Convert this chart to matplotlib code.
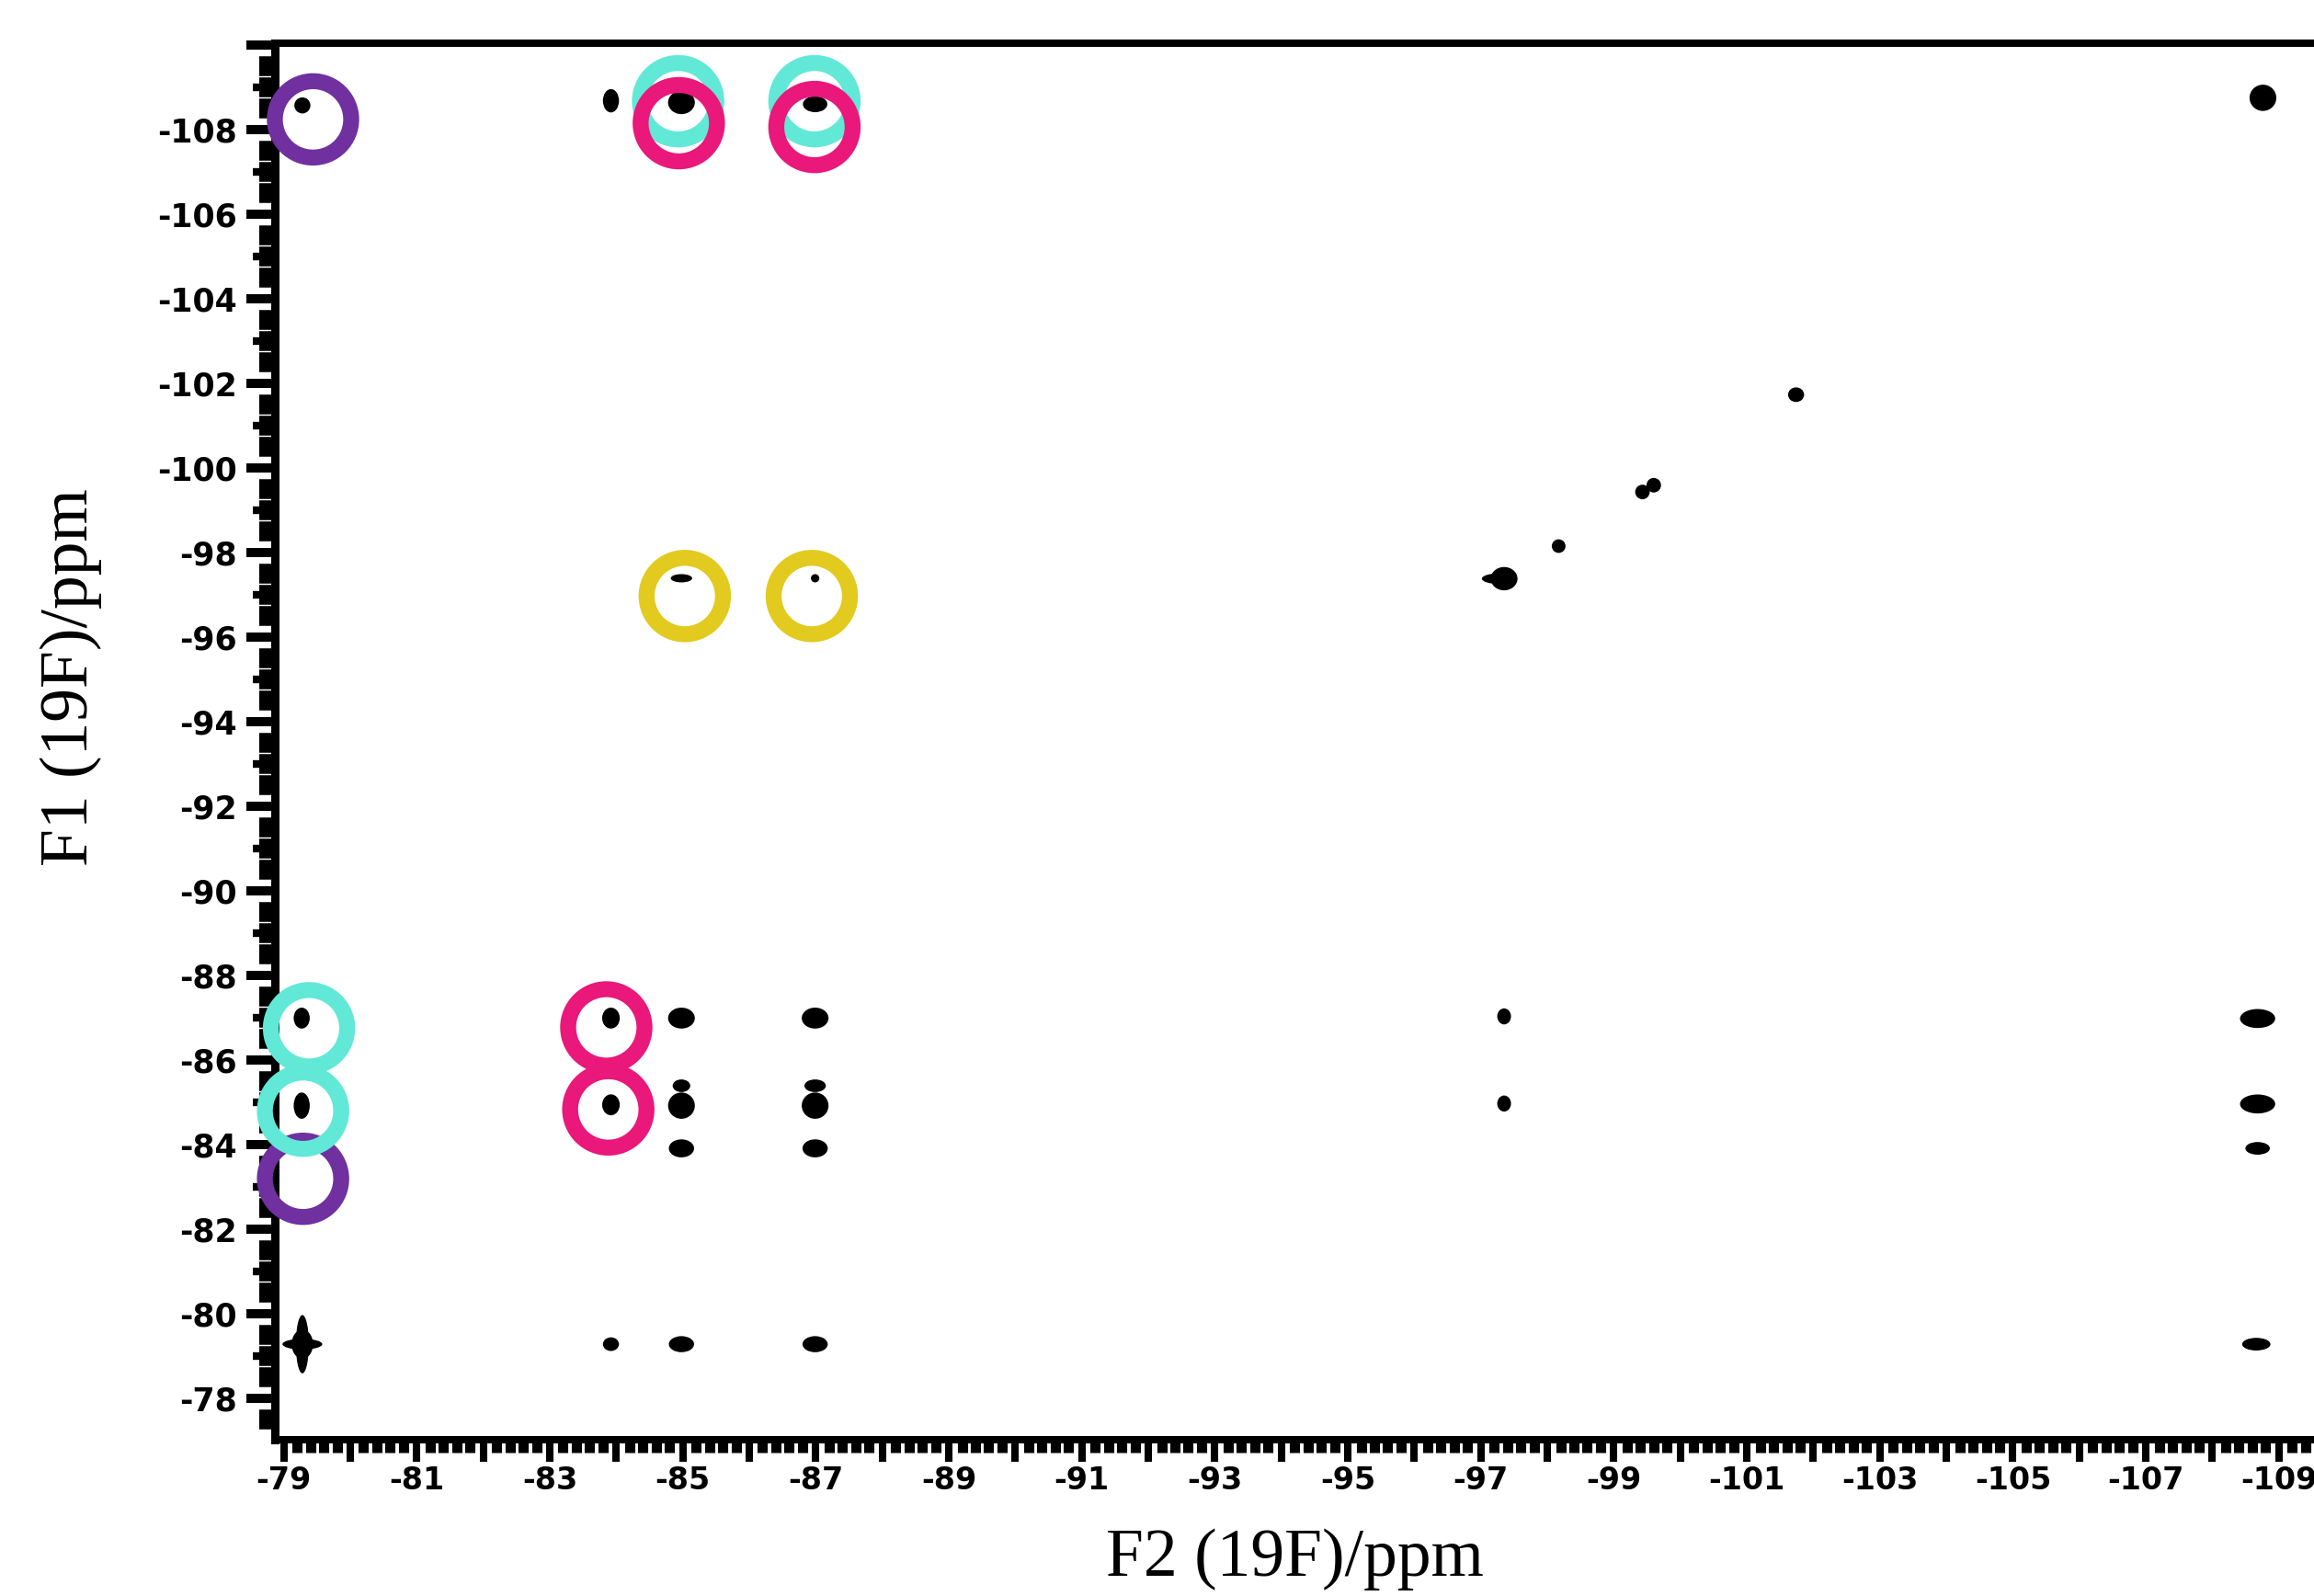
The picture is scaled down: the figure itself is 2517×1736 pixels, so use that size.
import matplotlib
matplotlib.use("Agg")
import matplotlib.pyplot as plt
import numpy as np
from matplotlib.patches import Ellipse
from matplotlib.ticker import MultipleLocator, FixedLocator, FuncFormatter

plt.rcParams["axes.unicode_minus"] = False

# 19F-19F correlation peaks: F2 / F1 shift (ppm) and apparent extent (ppm)
peak_f2 = [-79.28, -79.27, -79.27, -79.27, -79.28, -79.28, -79.28,
           -83.92, -83.92, -83.92, -83.92, -83.92,
           -84.98, -84.98, -84.98, -84.98, -84.98, -84.98, -84.98,
           -86.99, -86.99, -86.99, -86.99, -86.99, -86.99, -86.99,
           -97.35, -97.28, -97.35, -97.35,
           -98.17, -99.43, -99.60, -101.74,
           -108.76, -108.68, -108.68, -108.68, -108.66]
peak_f1 = [-108.57, -86.99, -84.92, -83.87, -79.28, -79.28, -79.28,
           -108.68, -86.99, -84.94, -83.88, -79.28,
           -108.64, -97.39, -86.99, -85.39, -84.92, -83.91, -79.28,
           -108.60, -97.39, -86.99, -85.39, -84.92, -83.91, -79.28,
           -97.38, -97.38, -87.03, -84.97,
           -98.15, -99.43, -99.59, -101.73,
           -108.75, -86.98, -84.96, -83.91, -79.28]
peak_w = [0.21, 0.21, 0.21, 0.11, 0.28, 0.52, 0.17,
          0.21, 0.23, 0.23, 0.14, 0.21,
          0.35, 0.28, 0.35, 0.23, 0.35, 0.33, 0.33,
          0.32, 0.11, 0.35, 0.28, 0.35, 0.33, 0.33,
          0.35, 0.46, 0.18, 0.18,
          0.18, 0.19, 0.19, 0.21,
          0.35, 0.46, 0.46, 0.32, 0.37]
peak_h = [0.33, 0.43, 0.54, 0.17, 0.60, 0.22, 1.20,
          0.48, 0.43, 0.43, 0.17, 0.28,
          0.48, 0.17, 0.43, 0.26, 0.54, 0.37, 0.33,
          0.33, 0.17, 0.43, 0.26, 0.54, 0.37, 0.33,
          0.48, 0.22, 0.33, 0.33,
          0.28, 0.30, 0.30, 0.30,
          0.54, 0.39, 0.39, 0.26, 0.26]

# highlighted correlations
purple_f2 = [-79.44, -79.29]
purple_f1 = [-108.24, -83.19]
cyan_f2 = [-84.93, -86.98, -79.38, -79.29]
cyan_f1 = [-108.67, -108.67, -86.75, -84.80]
pink_f2 = [-84.94, -86.98, -83.85, -83.88]
pink_f1 = [-108.15, -108.06, -86.77, -84.83]
yellow_f2 = [-85.03, -86.94]
yellow_f1 = [-96.97, -96.97]

y_ticks = np.arange(-110, -77, 2)
y_odd_ticks = np.arange(-109, -76, 2)

fig = plt.figure(figsize=(25.17, 17.36), dpi=100)
ax = fig.add_axes([0.1186, 0.0979, 0.8806, 0.875])
ax.set_xlim(-78.86, -109.5)
ax.set_ylim(-77.02, -110.04)

ax.spines["right"].set_visible(False)
ax.spines["left"].set_linewidth(6.5)
ax.spines["bottom"].set_linewidth(5.8)
ax.spines["top"].set_linewidth(5.8)
for s in ax.spines.values():
    s.set_capstyle("projecting")

# x axis ruler
ax.xaxis.set_major_locator(MultipleLocator(1))
ax.xaxis.set_major_formatter(FuncFormatter(lambda v, p: f"{v:.0f}" if round(v) % 2 else ""))
ax.xaxis.set_minor_locator(MultipleLocator(0.2))
ax.tick_params(axis="x", which="major", direction="out", length=17.3, width=5.8,
               pad=3, labelsize=24)
ax.tick_params(axis="x", which="minor", direction="out", length=10, width=8)
for lab in ax.get_xticklabels():
    lab.set_fontweight("bold")

# y axis ruler
ax.yaxis.set_major_locator(FixedLocator(y_ticks))
ax.yaxis.set_major_formatter(FuncFormatter(lambda v, p: "" if v < -109 else f"{v:.0f}"))
ax.yaxis.set_minor_locator(MultipleLocator(0.5))
ax.tick_params(axis="y", which="major", direction="out", length=22, width=7.2,
               pad=7, labelsize=25)
ax.tick_params(axis="y", which="minor", direction="out", length=12.6, width=15.5)
for lab in ax.get_yticklabels():
    lab.set_fontweight("bold")

sec = ax.secondary_yaxis("left")
sec.set_yticks(y_odd_ticks)
sec.set_yticklabels([])
sec.tick_params(axis="y", direction="out", length=17, width=6)
sec.spines["left"].set_visible(False)

blob = 1.15  # contour level look
for x, y, w, h in zip(peak_f2, peak_f1, peak_w, peak_h):
    ax.add_patch(Ellipse((x, y), w * blob, h * blob, facecolor="black",
                         edgecolor="none", zorder=3))

ring = dict(s=3576, facecolors="none", linewidths=12.5, zorder=5, clip_on=False)
ax.scatter(purple_f2, purple_f1, edgecolors="#7030A0", **ring)
ax.scatter(cyan_f2, cyan_f1, edgecolors="#62E8D6", **ring)
ax.scatter(pink_f2, pink_f1, edgecolors="#E9187A", **ring)
ax.scatter(yellow_f2, yellow_f1, edgecolors="#E2CA1F", **ring)

fig.text(1408 / 2517, 1 - 1714 / 1736, "F2 (19F)/ppm", ha="center", va="baseline",
         family="Liberation Serif", size=53)
fig.text(77 / 2517, 1 - 737 / 1736, "F1 (19F)/ppm", rotation=90, ha="center",
         va="center", family="Liberation Serif", size=53)

fig.savefig("out.png", dpi=100)
plt.close(fig)
